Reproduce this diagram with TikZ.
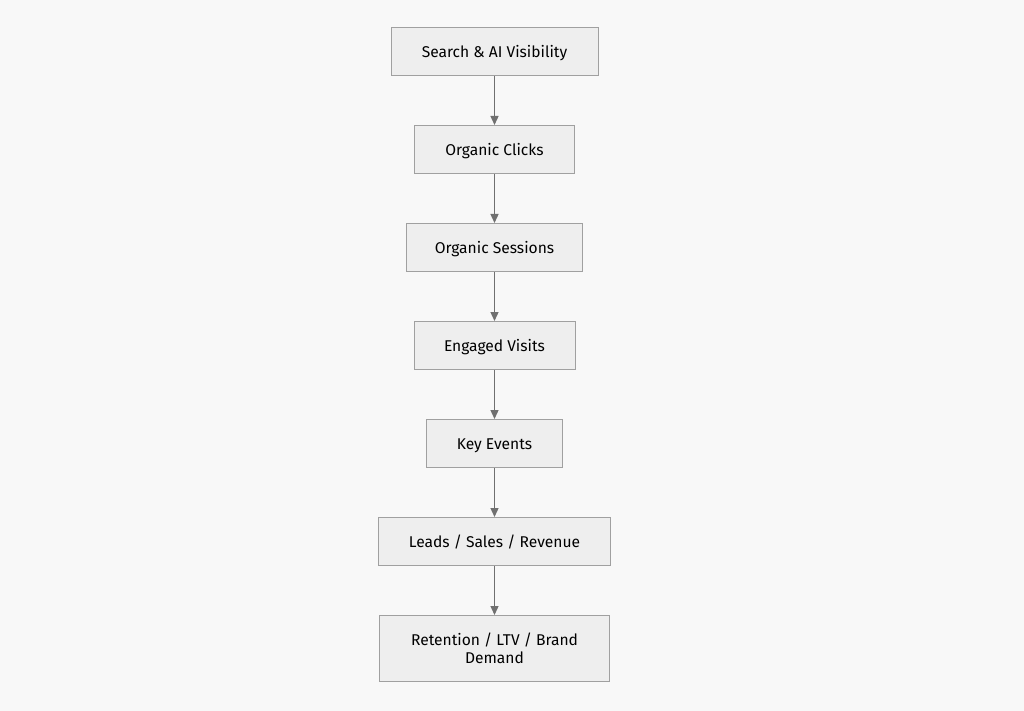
\documentclass[tikz,border=0pt]{standalone}
\usepackage{fontspec}
\setmainfont{Fira Sans}
\usetikzlibrary{arrows.meta}
\definecolor{bg}{HTML}{F8F8F8}
\definecolor{boxfill}{HTML}{EEEEEE}
\definecolor{boxline}{HTML}{A0A0A0}
\definecolor{arrowc}{HTML}{707070}
\tikzset{
  flowbox/.style={draw=boxline, fill=boxfill, line width=1pt, rectangle, inner sep=0pt, align=center, font=\fontsize{15.6}{17.5}\selectfont, text=black},
  oneline/.style={flowbox, text height=12.7pt, text depth=0pt, minimum height=48pt},
  flowarrow/.style={draw=arrowc, line width=1.3pt, -{Triangle[length=9pt,width=8pt]}}
}
\begin{document}
\begin{tikzpicture}[x=1pt,y=-1pt]
\fill[bg] (0,0) rectangle (1024,711);
\useasboundingbox (0,0) rectangle (1024,711);
\node[oneline, minimum width=207pt] (a) at (494.5,51.5) {Search \& AI Visibility};
\node[oneline, minimum width=160pt] (b) at (494.5,149.5) {Organic Clicks};
\node[oneline, minimum width=176pt] (c) at (494.5,247.5) {Organic Sessions};
\node[oneline, minimum width=161pt] (d) at (494.5,345.5) {Engaged Visits};
\node[oneline, minimum width=136pt] (e) at (494.5,443.5) {Key Events};
\node[oneline, minimum width=232pt] (f) at (494.5,541.5) {Leads / Sales / Revenue};
\node[flowbox, minimum width=230pt, minimum height=66pt] (g) at (494.5,648.5) {\rule{0pt}{12pt}Retention / LTV / Brand\\Demand};
\draw[flowarrow] (a) -- (b);
\draw[flowarrow] (b) -- (c);
\draw[flowarrow] (c) -- (d);
\draw[flowarrow] (d) -- (e);
\draw[flowarrow] (e) -- (f);
\draw[flowarrow] (f) -- (g);
\end{tikzpicture}
\end{document}
